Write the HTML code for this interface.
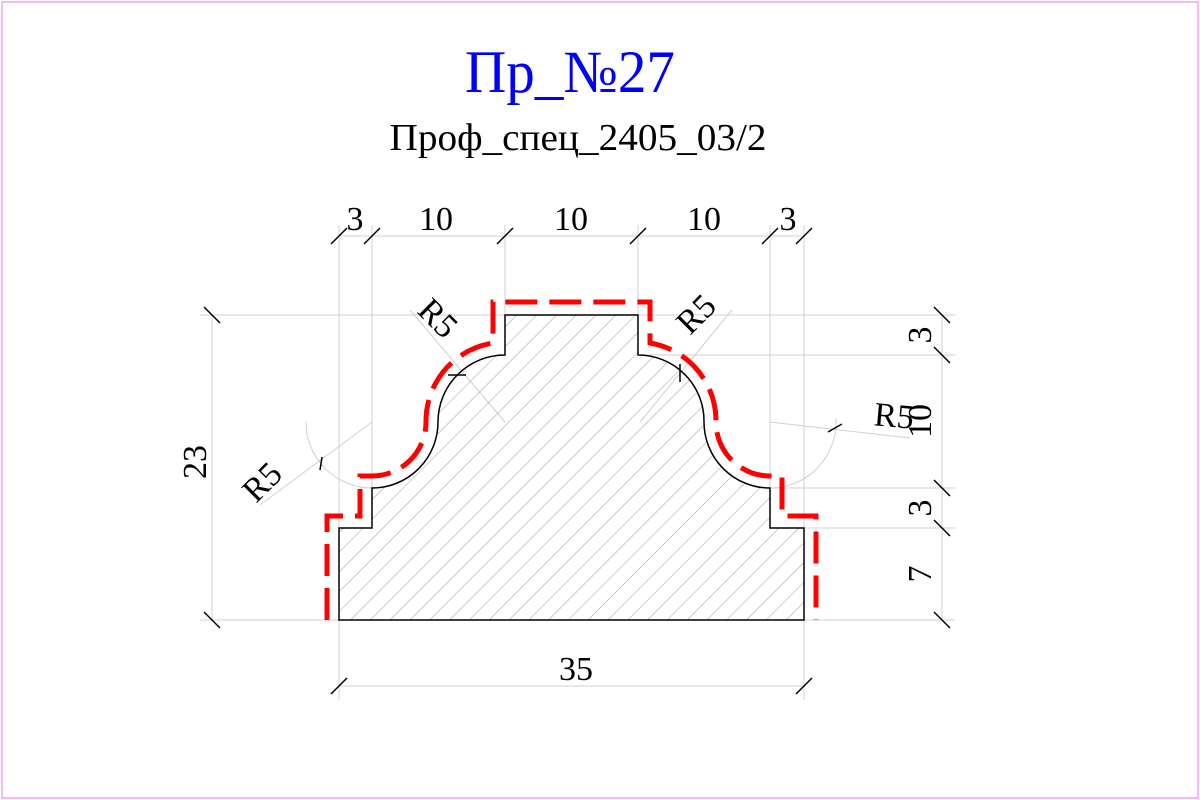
<!DOCTYPE html>
<html><head><meta charset="utf-8"><style>
html,body{margin:0;padding:0;background:#fff;}
svg{display:block;}
text{font-family:"Liberation Serif",serif;}
</style></head><body>
<svg width="1200" height="800" viewBox="0 0 1200 800">
<defs>
<pattern id="hatch" patternUnits="userSpaceOnUse" width="14" height="14" patternTransform="rotate(45)">
<line x1="0" y1="0" x2="0" y2="14" stroke="#a89898" stroke-width="1"/>
</pattern>
</defs>
<rect x="2" y="2" width="1196" height="796" fill="#fff" stroke="#f0a0f0" stroke-width="1.5"/>
<text x="570" y="92" font-size="60" fill="#0000ff" text-anchor="middle" textLength="210" lengthAdjust="spacingAndGlyphs">Пр_№27</text>
<text x="578" y="150" font-size="38" fill="#000" text-anchor="middle" textLength="377" lengthAdjust="spacingAndGlyphs">Проф_спец_2405_03/2</text>

<g stroke="#d0d0d0" stroke-width="1" fill="none">
<line x1="339" y1="225" x2="339" y2="700"/>
<line x1="372" y1="225" x2="372" y2="528"/>
<line x1="505" y1="225" x2="505" y2="355"/>
<line x1="638" y1="225" x2="638" y2="355"/>
<line x1="770" y1="225" x2="770" y2="528"/>
<line x1="804" y1="225" x2="804" y2="700"/>
<line x1="200" y1="315" x2="955" y2="315"/>
<line x1="638" y1="355" x2="955" y2="355"/>
<line x1="770" y1="488" x2="955" y2="488"/>
<line x1="804" y1="528" x2="955" y2="528"/>
<line x1="200" y1="620" x2="955" y2="620"/>
<line x1="339" y1="236" x2="804" y2="236"/>
<line x1="339" y1="686" x2="804" y2="686"/>
<line x1="212" y1="315" x2="212" y2="620"/>
<line x1="942" y1="315" x2="942" y2="620"/>
<line x1="410" y1="310" x2="505" y2="422"/>
<line x1="732" y1="310" x2="640" y2="422"/>
<line x1="372" y1="422" x2="260" y2="505"/>
<line x1="770" y1="422" x2="910" y2="438"/>
<path d="M836 418 A66 66 0 0 1 770 488"/>
<path d="M306 422 A66 66 0 0 0 372 488"/>
</g>
<g stroke="#000" stroke-width="1.5">
<line x1="331" y1="244" x2="347" y2="228"/><line x1="364" y1="244" x2="380" y2="228"/>
<line x1="497" y1="244" x2="513" y2="228"/><line x1="630" y1="244" x2="646" y2="228"/>
<line x1="762" y1="244" x2="778" y2="228"/><line x1="796" y1="244" x2="812" y2="228"/>
<line x1="331" y1="694" x2="347" y2="678"/><line x1="796" y1="694" x2="812" y2="678"/>
<line x1="204" y1="307" x2="220" y2="323"/><line x1="204" y1="612" x2="220" y2="628"/>
<line x1="934" y1="307" x2="950" y2="323"/><line x1="934" y1="347" x2="950" y2="363"/>
<line x1="934" y1="480" x2="950" y2="496"/><line x1="934" y1="520" x2="950" y2="536"/>
<line x1="934" y1="612" x2="950" y2="628"/>
<line x1="828" y1="432" x2="842" y2="424"/>
<line x1="322" y1="457" x2="320" y2="470"/>
<line x1="448" y1="375" x2="466" y2="375"/>
<line x1="680" y1="364" x2="680" y2="382"/>
</g>
<path d="M339 620 L339 528 L372 528 L372 488 A66 66 0 0 0 438 422 A67 67 0 0 1 505 355 L505 315 L638 315 L638 355 A66 66 0 0 1 704 422 A66 66 0 0 0 770 488 L770 528 L804 528 L804 620 Z" fill="url(#hatch)" stroke="#000" stroke-width="1.5"/>
<path d="M327 620 L327 516 L360 516 L360 476 L372 476 A54 54 0 0 0 426 422 A79 79 0 0 1 493 343 L493 302 L650 302 L650 343 A79 79 0 0 1 716 422 A54 54 0 0 0 770 476 L782 476 L782 516 L816 516 L816 620" fill="none" stroke="#ff0000" stroke-width="5" stroke-dasharray="32 12"/>
<g font-size="34" fill="#000" text-anchor="middle">
<text x="355" y="230">3</text><text x="436" y="230">10</text><text x="571" y="230">10</text>
<text x="704" y="230">10</text><text x="788" y="230">3</text>
<text x="576" y="680">35</text>
<text transform="translate(206,462) rotate(-90)">23</text>
<text transform="translate(931,335) rotate(-90)">3</text>
<text transform="translate(931,421) rotate(-90)">10</text>
<text transform="translate(931,508) rotate(-90)">3</text>
<text transform="translate(931,574) rotate(-90)">7</text>
<text transform="translate(430,326) rotate(45)">R5</text>
<text transform="translate(704,322) rotate(-45)">R5</text>
<text transform="translate(270,490) rotate(-45)">R5</text>
<text transform="translate(893,427) rotate(5)">R5</text>
</g>
</svg>
</body></html>
